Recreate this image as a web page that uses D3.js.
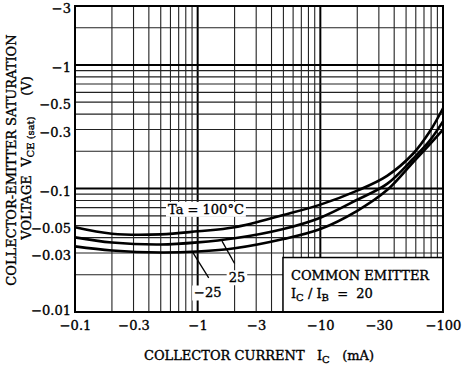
<!DOCTYPE html>
<html>
<head>
<meta charset="utf-8">
<script src="https://cdn.jsdelivr.net/npm/d3@7"></script>
<style>
  body { margin: 0; background: #fff; }
  svg { display: block; font-family: 'DejaVu Serif', 'Liberation Serif', serif; }
  .tick text, .lbl { font-size: 13px; fill: #000; stroke: #000; stroke-width: 0.35px; }
  .lbl { white-space: pre; }
</style>
</head>
<body>
<svg id="chart" width="467" height="371"></svg>
<script>
// collector current (mA) and VCE(sat) (V)
const currents = [-0.1, -0.2, -0.5, -1, -2, -5, -10, -20, -35, -57, -78, -100];
const vce100 = [-0.0485, -0.043, -0.0425, -0.045, -0.0485, -0.061, -0.074, -0.096, -0.1265, -0.191, -0.289, -0.446];
const vce25 = [-0.0402, -0.0365, -0.0352, -0.0366, -0.0395, -0.047, -0.058, -0.081, -0.109, -0.174, -0.244, -0.349];
const vceM25 = [-0.034, -0.0315, -0.0303, -0.0309, -0.0328, -0.039, -0.047, -0.066, -0.097, -0.163, -0.228, -0.30];

const xTickValues = [-0.1, -0.3, -1, -3, -10, -30, -100];
const yTickValues = [-0.01, -0.03, -0.05, -0.1, -0.3, -0.5, -1, -3];

const margin = { top: 6, right: 24, bottom: 59, left: 75 };
const width = 467 - margin.left - margin.right;
const height = 371 - margin.top - margin.bottom;

const svg = d3.select('#chart');
const g = svg.append('g').attr('transform', 'translate(' + margin.left + ',' + margin.top + ')');

const x = d3.scaleLog().domain([-0.1, -100]).range([0, width]);
const y = d3.scaleLog().domain([-0.01, -3]).range([height, 0]);

const isDecade = function (v) {
  const l = Math.log10(Math.abs(v));
  return Math.abs(l - Math.round(l)) < 1e-9;
};

// grid
g.selectAll('.vgrid').data(x.ticks()).enter().append('line')
  .attr('x1', d => x(d)).attr('x2', d => x(d))
  .attr('y1', 0).attr('y2', height)
  .attr('stroke', d => isDecade(d) ? '#000' : '#222')
  .attr('stroke-width', d => isDecade(d) ? 2 : 1.1);

g.selectAll('.hgrid').data(y.ticks()).enter().append('line')
  .attr('x1', 0).attr('x2', width)
  .attr('y1', d => y(d)).attr('y2', d => y(d))
  .attr('stroke', d => isDecade(d) ? '#000' : '#222')
  .attr('stroke-width', d => isDecade(d) ? 2 : 1.1);

// curves
const line = d3.line()
  .x((d, i) => x(currents[i]))
  .y(d => y(d))
  .curve(d3.curveCatmullRom.alpha(0.5));

[vce100, vce25, vceM25].forEach(function (s) {
  g.append('path').attr('d', line(s))
    .attr('fill', 'none').attr('stroke', '#000').attr('stroke-width', 2.6);
});

// labels with white backing
const addLabel = function (cx, cy, text, anchor) {
  const t = g.append('text').attr('class', 'lbl')
    .attr('x', x(cx)).attr('y', y(cy)).attr('dy', '0.36em')
    .attr('text-anchor', anchor || 'middle')
    .text(text);
  const b = t.node().getBBox();
  g.insert('rect', () => t.node())
    .attr('x', b.x - 2).attr('y', b.y)
    .attr('width', b.width + 4).attr('height', b.height)
    .attr('fill', '#fff');
  return t;
};

addLabel(-0.573, -0.068, 'Ta = 100°C', 'start');

// leaders
const leaders = [
  [[-2.0, -0.0247], [-1.58, -0.0375]],
  [[-1.23, -0.0189], [-0.91, -0.0305]]
];
leaders.forEach(function (l) {
  g.append('line')
    .attr('x1', x(l[0][0])).attr('y1', y(l[0][1]))
    .attr('x2', x(l[1][0])).attr('y2', y(l[1][1]))
    .attr('stroke', '#000').attr('stroke-width', 1.3);
});

addLabel(-2.09, -0.019, '25');
addLabel(-1.21, -0.0143, '−25');

// common emitter box
const bx = x(-4.96), by = y(-0.0276);
g.append('rect')
  .attr('x', bx).attr('y', by)
  .attr('width', width - bx).attr('height', height - by)
  .attr('fill', '#fff').attr('stroke', '#000').attr('stroke-width', 1.5);
g.append('text').attr('class', 'lbl')
  .attr('x', bx + 8).attr('y', by + 22).text('COMMON EMITTER');
const ib = g.append('text').attr('class', 'lbl').attr('x', bx + 8).attr('y', by + 40);
ib.append('tspan').text('I');
ib.append('tspan').attr('dy', 3).attr('font-size', '10px').text('C');
ib.append('tspan').attr('dy', -3).text(' / I');
ib.append('tspan').attr('dy', 3).attr('font-size', '10px').text('B');
ib.append('tspan').attr('dy', -3).text('  =  20');

// frame
g.append('rect').attr('width', width).attr('height', height)
  .attr('fill', 'none').attr('stroke', '#000').attr('stroke-width', 2);

// axes
const fmt = d => '−' + Math.abs(d);
const xAxis = g.append('g').attr('transform', 'translate(0,' + height + ')')
  .call(d3.axisBottom(x).tickValues(xTickValues).tickFormat(fmt).tickSize(0).tickPadding(9));
xAxis.select('.domain').remove();
xAxis.attr('font-family', null).attr('font-size', null);

const yAxis = g.append('g')
  .call(d3.axisLeft(y).tickValues(yTickValues).tickFormat(fmt).tickSize(0).tickPadding(4));
yAxis.select('.domain').remove();
yAxis.attr('font-family', null).attr('font-size', null);
yAxis.selectAll('text').attr('dy', d => d === -0.01 ? '0.2em' : '0.52em');

// axis titles
const xt = svg.append('text').attr('class', 'lbl')
  .attr('x', margin.left + width / 2).attr('y', 360).attr('text-anchor', 'middle');
xt.append('tspan').text('COLLECTOR CURRENT   I');
xt.append('tspan').attr('dy', 3).attr('font-size', '10px').text('C');
xt.append('tspan').attr('dy', -3).text('   (mA)');

svg.append('text').attr('class', 'lbl')
  .attr('transform', 'translate(16,160) rotate(-90)').attr('text-anchor', 'middle')
  .text('COLLECTOR-EMITTER SATURATION');
const yt2 = svg.append('text').attr('class', 'lbl')
  .attr('transform', 'translate(31,158) rotate(-90)').attr('text-anchor', 'middle');
yt2.append('tspan').text('VOLTAGE  V');
yt2.append('tspan').attr('dy', 3).attr('font-size', '10px').text('CE (sat)');
yt2.append('tspan').attr('dy', -3).text('     (V)');
</script>
</body>
</html>
